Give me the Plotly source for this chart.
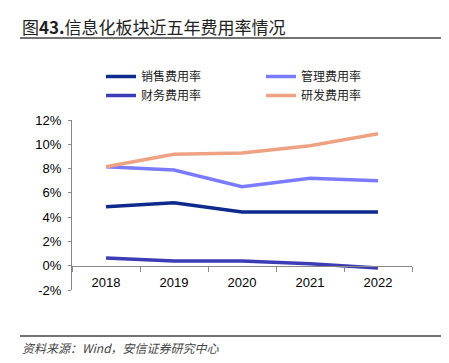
import plotly.graph_objects as go

years = ["2018", "2019", "2020", "2021", "2022"]
sales_rate = [4.86, 5.19, 4.42, 4.43, 4.43]      # 销售费用率
admin_rate = [8.15, 7.88, 6.50, 7.20, 7.00]      # 管理费用率
finance_rate = [0.63, 0.39, 0.38, 0.17, -0.19]   # 财务费用率
rd_rate = [8.15, 9.17, 9.28, 9.88, 10.87]        # 研发费用率
y_ticks = [-2, 0, 2, 4, 6, 8, 10, 12]
y_tick_labels = ["-2%", "0%", "2%", "4%", "6%", "8%", "10%", "12%"]

OFF = 8  # page body margin
W, H = 449 - OFF, 363 - OFF
L, R, T, B = 72 - OFF, 37, 120 - OFF, 73

series = [
    ("销售费用率", sales_rate, "#0E2A8C"),
    ("管理费用率", admin_rate, "#7B7BFF"),
    ("财务费用率", finance_rate, "#3C3CB4"),
    ("研发费用率", rd_rate, "#EDA283"),
]

fig = go.Figure()
for name, vals, color in series:
    fig.add_trace(go.Scatter(x=years, y=vals, name=name, mode="lines",
                             line=dict(color=color, width=3.5)))

pw = W - L - R
ph = H - T - B
zero_pos = (0 - (-2)) / 14

def px(xpix):
    return (xpix - OFF - L) / pw

def py(ypix):
    return (H - B - (ypix - OFF)) / ph

fig.update_layout(
    width=W, height=H,
    margin=dict(l=L, r=R, t=T, b=B, autoexpand=False),
    plot_bgcolor="white", paper_bgcolor="white",
    font=dict(family="Liberation Sans, Arial, sans-serif", color="#000000", size=13),
    showlegend=True,
    legend=dict(orientation="h", xref="container", yref="container",
                x=(107 - OFF - 6) / W, xanchor="left",
                y=1 - (62 - OFF) / H, yanchor="top",
                entrywidth=115, entrywidthmode="pixels",
                font=dict(family="Noto Sans CJK SC", size=12, color="#222"),
                tracegroupgap=0, itemwidth=30,
                bgcolor="rgba(0,0,0,0)"),
    xaxis=dict(type="category", range=[-0.5, 4.5], anchor="free", position=zero_pos,
               showline=True, linecolor="#888", linewidth=1, automargin=False,
               ticks="outside", tickson="boundaries", ticklen=5, tickcolor="#888",
               ticklabelstandoff=5, showgrid=False, zeroline=False,
               tickfont=dict(size=13)),
    yaxis=dict(range=[-2, 12], tickmode="array", tickvals=y_ticks, ticktext=y_tick_labels,
               showline=True, linecolor="#888", linewidth=1, automargin=False,
               ticks="outside", ticklen=3, tickcolor="#888", ticklabelstandoff=4,
               showgrid=False, zeroline=False, tickfont=dict(size=13)),
)

# Title, rules and source note
fig.add_annotation(xref="paper", yref="paper", x=px(20), xanchor="left",
                   y=py(26), yanchor="middle", showarrow=False,
                   text="图<b>43.</b>信息化板块近五年费用率情况",
                   font=dict(family="Noto Sans CJK SC", size=17, color="#222"))
fig.add_shape(type="line", xref="paper", yref="paper",
              x0=px(20), x1=px(442), y0=py(38), y1=py(38),
              line=dict(color="#444", width=1.5))
fig.add_shape(type="line", xref="paper", yref="paper",
              x0=px(20), x1=px(442), y0=py(336), y1=py(336),
              line=dict(color="#444", width=1.5))
fig.add_annotation(xref="paper", yref="paper", x=px(20), xanchor="left",
                   y=py(347), yanchor="middle", showarrow=False,
                   text="<i>资料来源：Wind，安信证券研究中心</i>",
                   font=dict(family="Noto Sans CJK SC", size=12, color="#444"))

fig.write_html("out.html")
